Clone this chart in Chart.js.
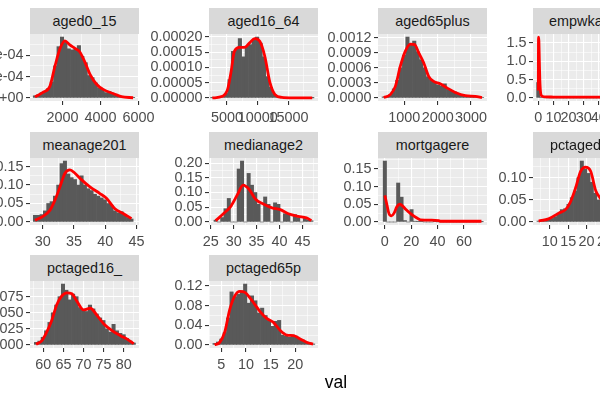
<!DOCTYPE html>
<html><head><meta charset="utf-8">
<script src="https://cdn.jsdelivr.net/npm/chart.js@4.4.0/dist/chart.umd.min.js"></script>
<style>
html,body{margin:0;padding:0;background:#fff;width:600px;height:400px;overflow:hidden;}
#wrap{position:relative;width:600px;height:400px;overflow:hidden;font-family:"Liberation Sans",Arial,sans-serif;}
.strip{position:absolute;background:#D9D9D9;color:#1A1A1A;font-size:14.4px;text-align:center;white-space:nowrap;overflow:hidden;}
canvas{position:absolute;}
#xtitle{position:absolute;font-size:17.5px;color:#000;transform:translate(-50%,-50%);}
</style></head><body><div id="wrap"></div>
<script>
// ---------------- DATA ----------------
const facetNames = ["aged0_15","aged16_64","aged65plus","empwkagric","meanage201","medianage2","mortgagere","pctaged0_1","pctaged16_","pctaged65p"];

// histogram: first bin centre and bin width; densities per bin; density curve points
const aged0_15_bin = [540, 178.5];
const aged0_15_hist = [0.00002,0.00003,0.00005,0.00006,0.00009,0.00015,0.00030,0.00048,0.00057,0.00052,0.00046,0.00045,0.00046,0.00049,0.00039,0.00033,0.00021,0.00019,0.00014,0.00009,0.00008,0.00005,0.00006,0.00004,0.000035,0.00002,0.00001,0.000005,0.000005,0.000003];
const aged0_15_densX = [540,980,1330,1600,1860,2120,2380,2650,2910,3170,3440,3790,4140,4670,5100,5720];
const aged0_15_densY = [0.00001,0.000054,0.00011,0.00030,0.00046,0.000535,0.000496,0.000464,0.00043,0.000337,0.000224,0.000128,0.00008,0.000041,0.000012,0.000002];

const aged16_64_bin = [2628, 559];
const aged16_64_hist = [0.0000005,0.0000005,0.000001,0.000003,0.000015,0.00006,0.000153,0.00016,0.000195,0.000135,0.00017,0.000175,0.00019,0.0002,0.00018,0.000135,0.00007,0.000035,0.000012,0.000004,0.000002,0.000001,0.000001,0.0000005,0.0000003,0,0,0,0,0.0000002];
const aged16_64_densX = [2628,4275,5100,5660,6200,7030,7850,8680,9500,10330,11150,11970,12800,13900,16000,18840];
const aged16_64_densY = [0,0.0000054,0.000028,0.000085,0.000153,0.000166,0.000166,0.000181,0.000195,0.000186,0.000136,0.000051,0.000011,0.000002,0.0000005,0.0000002];

const aged65plus_bin = [382, 101.7];
const aged65plus_hist = [0.00002,0.00003,0.00007,0.00018,0.00035,0.0006,0.00085,0.00121,0.00105,0.00113,0.00092,0.00076,0.0006,0.00042,0.00035,0.00031,0.00026,0.00024,0.00028,0.00017,0.00014,0.00012,0.00008,0.00006,0.00004,0.000035,0.00003,0.000025,0.000015,0.00001];
const aged65plus_densX = [382,580,730,880,1030,1180,1310,1430,1580,1730,1880,2080,2280,2530,2830,3130,3330];
const aged65plus_densY = [0.00001,0.000066,0.00023,0.00063,0.00093,0.00107,0.00106,0.0009,0.0007,0.00043,0.00033,0.00028,0.0002,0.00011,0.000046,0.000032,0.000005];

const empwkagric_bin = [0, 2.2];
const empwkagric_hist = [0.42,0.02,0.004,0.002,0.001,0.001,0.0008,0.0006,0.0005,0.0005,0.0004,0.0004,0.0003,0.0003,0.0003,0.0002,0.0002,0.0002,0.0002,0.0001,0.0001,0.0001,0.0001,0.0001,0.0001,0,0,0,0,0.0001];
const empwkagric_densX = [0,0.15,0.4,0.7,1.0,1.5,2.2,3,5,10,20,40,63.8];
const empwkagric_densY = [0.2,1.66,1.55,1.0,0.5,0.15,0.06,0.04,0.03,0.025,0.02,0.02,0.015];

const meanage201_bin = [28.77, 0.532];
const meanage201_hist = [0.018,0.018,0.02,0.03,0.05,0.055,0.07,0.10,0.158,0.165,0.13,0.12,0.115,0.10,0.125,0.10,0.09,0.085,0.075,0.07,0.065,0.06,0.05,0.045,0.03,0.025,0.028,0.02,0.012,0.008];
const meanage201_densX = [28.77,30.1,31.17,31.96,32.76,33.56,34.36,35.16,36.23,37.56,39.15,40.2,41.55,42.88,44.2];
const meanage201_densY = [0.0046,0.016,0.032,0.059,0.095,0.132,0.141,0.132,0.114,0.095,0.077,0.064,0.036,0.023,0.009];

const medianage2_bin = [26.07, 0.72];
const medianage2_hist = [0.006,0,0.015,0.045,0.08,0,0,0.18,0.207,0,0.165,0.125,0.1,0.06,0,0.085,0.06,0,0.065,0.06,0,0.028,0.028,0,0.025,0.015,0,0.012,0.006,0.004];
const medianage2_densX = [26.07,28.0,29.43,30.87,32.07,33.36,34.79,36.57,38.37,40.15,41.93,44.07,45.87,46.94];
const medianage2_densY = [0.0045,0.031,0.054,0.094,0.125,0.111,0.077,0.06,0.048,0.042,0.028,0.019,0.014,0.0045];

const mortgagere_bin = [0, 2.53];
const mortgagere_hist = [0.172,0,0,0,0.11,0.07,0.004,0,0.035,0.002,0.001,0.001,0,0,0,0.001,0,0,0,0,0,0,0,0,0,0,0,0,0,0.0005];
const mortgagere_densX = [0,1.5,3,5,7,9,11.4,13.5,16,20,24,27,35,41,42,55,73.3];
const mortgagere_densY = [0.075,0.05,0.025,0.017,0.025,0.042,0.05,0.045,0.035,0.022,0.012,0.006,0.005,0.004,0.002,0.002,0.002];

const pctaged0_1_bin = [7.0, 0.9];
const pctaged0_1_hist = [0.002,0.003,0.004,0.006,0.008,0.012,0.02,0.028,0.03,0.04,0.055,0.07,0.10,0.138,0.12,0.11,0.09,0.065,0.05,0.045,0.035,0.028,0.02,0.015,0.01,0.008,0.005,0.003,0.002,0.001];
const pctaged0_1_densX = [7.0,9.7,12.45,14.3,15.6,17.0,18.4,19.7,21.1,22.5,23.6,25,27,30,33.1];
const pctaged0_1_densY = [0.002,0.007,0.02,0.028,0.045,0.077,0.115,0.124,0.115,0.07,0.055,0.04,0.02,0.008,0.002];

const pctaged16__bin = [58.2, 0.838];
const pctaged16__hist = [0.004,0.006,0.012,0.022,0.035,0.05,0.062,0.075,0.0946,0.085,0.07,0.079,0.075,0.058,0.055,0.052,0.062,0.056,0.048,0.042,0.038,0.025,0.02,0.032,0.022,0.018,0.016,0.01,0.006,0.003];
const pctaged16__densX = [58.2,59.6,60.85,62.1,63.35,64.6,65.85,67.1,68.35,70.0,71.7,73.35,75.0,77.1,79.2,80.85,82.5];
const pctaged16__densY = [0.001,0.0064,0.02,0.038,0.0625,0.076,0.081,0.0796,0.068,0.0545,0.057,0.046,0.033,0.0224,0.0144,0.009,0.002];

const pctaged65p_bin = [3.63, 0.689];
const pctaged65p_hist = [0.003,0.006,0.012,0.025,0.055,0.108,0.098,0.103,0.11,0.124,0.085,0.1,0.09,0.065,0.075,0.06,0.05,0.038,0.048,0.05,0.02,0.018,0.016,0.02,0.018,0.012,0.01,0.006,0.004,0.002];
const pctaged65p_densX = [3.63,4.65,5.68,6.7,7.73,8.75,9.78,10.8,11.82,12.85,14.2,15.57,16.95,18.3,19.67,21.0,22.4,23.6];
const pctaged65p_densY = [0.0005,0.005,0.026,0.072,0.1,0.109,0.107,0.096,0.082,0.068,0.054,0.046,0.0295,0.02,0.019,0.012,0.005,0.0015];

const xAxisTitle = "val";

// ---------------- LAYOUT ----------------
const sci = v => { if (Math.abs(v) < 1e-15) return "0e+00"; return v.toExponential(0).replace(/e([+-])(\d)$/, "e$10$2"); };
const fx = d => v => v.toFixed(d);
const panels = [
  {bin:aged0_15_bin, hist:aged0_15_hist, dx:aged0_15_densX, dy:aged0_15_densY, col:0,row:0, xr:[280,6030], xm:[2000,1000], ym:[2e-4,1e-4], yf:sci},
  {bin:aged16_64_bin, hist:aged16_64_hist, dx:aged16_64_densX, dy:aged16_64_densY, col:1,row:0, xr:[2084,19778], xm:[5000,2500], ym:[5e-5,2.5e-5], yf:fx(5)},
  {bin:aged65plus_bin, hist:aged65plus_hist, dx:aged65plus_densX, dy:aged65plus_densY, col:2,row:0, xr:[210,3480], xm:[1000,500], ym:[3e-4,1.5e-4], yf:fx(4)},
  {bin:empwkagric_bin, hist:empwkagric_hist, dx:empwkagric_densX, dy:empwkagric_densY, col:3,row:0, xr:[-3.5,68.5], xm:[10,5], ym:[0.5,0.25], yf:fx(1)},
  {bin:meanage201_bin, hist:meanage201_hist, dx:meanage201_densX, dy:meanage201_densY, col:0,row:1, xr:[27.97,45.4], xm:[5,2.5], ym:[0.05,0.025], yf:fx(2)},
  {bin:medianage2_bin, hist:medianage2_hist, dx:medianage2_densX, dy:medianage2_densY, col:1,row:1, xr:[24.63,48.38], xm:[5,2.5], ym:[0.05,0.025], yf:fx(2)},
  {bin:mortgagere_bin, hist:mortgagere_hist, dx:mortgagere_densX, dy:mortgagere_densY, col:2,row:1, xr:[-5.2,77.5], xm:[20,10], ym:[0.05,0.025], yf:fx(2)},
  {bin:pctaged0_1_bin, hist:pctaged0_1_hist, dx:pctaged0_1_densX, dy:pctaged0_1_densY, col:3,row:1, xr:[5.48,35], xm:[5,2.5], ym:[0.05,0.025], yf:fx(2)},
  {bin:pctaged16__bin, hist:pctaged16__hist, dx:pctaged16__densX, dy:pctaged16__densY, col:0,row:2, xr:[56.7,83.8], xm:[5,2.5], ym:[0.025,0.0125], yf:fx(3)},
  {bin:pctaged65p_bin, hist:pctaged65p_hist, dx:pctaged65p_densX, dy:pctaged65p_densY, col:1,row:2, xr:[2.5,24.6], xm:[5,2.5], ym:[0.04,0.02], yf:fx(2)}
];
const colX = [30, 209, 378, 533];
const rowY = [34, 158, 281];
const PW = 109, PH = 67, STRIP = 26;
const YW = 80, XH = 36, PT = 12, PR = 26;
const FONT = '"Liberation Sans", Arial, sans-serif';

const panelBg = {id:'panelBg', beforeDraw(chart){
  const {ctx, chartArea:a} = chart; ctx.save(); ctx.fillStyle = '#EBEBEB';
  ctx.fillRect(a.left, a.top, a.right - a.left, a.bottom - a.top); ctx.restore(); }};

const isMaj = (v, m) => Math.abs(v / m - Math.round(v / m)) < 1e-6;
const mkTicks = (min, max, step) => { const t = []; for (let k = Math.ceil(min / step - 1e-9); k * step <= max + 1e-12; k++) t.push({value: k * step}); return t; };

const wrap = document.getElementById('wrap');
panels.forEach((p, i) => {
  const x0 = colX[p.col], y0 = rowY[p.row];
  const s = document.createElement('div'); s.className = 'strip';
  s.style.left = x0 + 'px'; s.style.top = (y0 - STRIP) + 'px'; s.style.width = PW + 'px';
  s.style.height = STRIP + 'px'; s.style.lineHeight = STRIP + 'px'; s.textContent = facetNames[i];
  wrap.appendChild(s);
  const c = document.createElement('canvas');
  const cw = YW + PW + PR, ch = PT + PH + XH;
  c.width = cw; c.height = ch; c.style.width = cw + 'px'; c.style.height = ch + 'px';
  c.style.left = (x0 - YW) + 'px'; c.style.top = (y0 - PT) + 'px';
  wrap.appendChild(c);
  const bars = p.hist.map((h, k) => ({x: p.bin[0] + k * p.bin[1], y: h}));
  const dens = p.dx.map((x, k) => ({x: x, y: p.dy[k]}));
  const M = Math.max(...p.hist, ...p.dy);
  const ymin = -0.05 * M, ymax = 1.05 * M;
  const [xmaj, xmin] = p.xm, [ymaj, ymn] = p.ym;
  const gridOpts = maj => ({
    color: '#FFFFFF',
    lineWidth: ctx => (ctx.tick && isMaj(ctx.tick.value, maj)) ? 1.1 : 0.55,
    drawTicks: true, tickLength: 4, tickWidth: 1.1,
    tickColor: ctx => (ctx.tick && isMaj(ctx.tick.value, maj)) ? '#333333' : 'rgba(0,0,0,0)',
    offset: false
  });
  new Chart(c, {
    data: {datasets: [
      {type: 'line', data: dens, borderColor: '#FF0000', borderWidth: 2.8, pointRadius: 0, fill: false, cubicInterpolationMode: 'monotone', order: 0},
      {type: 'bar', data: bars, backgroundColor: '#595959', borderWidth: 0, barPercentage: 1, categoryPercentage: 1, order: 1}
    ]},
    options: {
      responsive: false, animation: false, events: [],
      layout: {padding: {top: PT, right: PR, left: 0, bottom: 0}},
      plugins: {legend: {display: false}, tooltip: {enabled: false}},
      scales: {
        x: {type: 'linear', min: p.xr[0], max: p.xr[1], offset: false,
            afterFit: sc => { sc.height = XH; },
            afterBuildTicks: sc => { sc.ticks = mkTicks(p.xr[0], p.xr[1], xmin); },
            grid: gridOpts(xmaj), border: {display: false},
            ticks: {autoSkip: false, maxRotation: 0, minRotation: 0, padding: 4.5, color: '#4D4D4D', font: {family: FONT, size: 14.4},
                    callback: v => isMaj(v, xmaj) ? String(Math.round(v)) : ''}},
        y: {type: 'linear', min: ymin, max: ymax,
            afterFit: sc => { sc.width = YW; },
            afterBuildTicks: sc => { sc.ticks = mkTicks(ymin, ymax, ymn); },
            grid: gridOpts(ymaj), border: {display: false},
            ticks: {autoSkip: false, padding: 2.5, color: '#4D4D4D', font: {family: FONT, size: 14.4},
                    callback: v => isMaj(v, ymaj) ? p.yf(Math.abs(v) < 1e-15 ? 0 : v) : ''}}
      }
    },
    plugins: [panelBg]
  });
});
const t = document.createElement('div'); t.id = 'xtitle'; t.textContent = xAxisTitle;
t.style.left = '336px'; t.style.top = '382px'; wrap.appendChild(t);
</script>
</body></html>
